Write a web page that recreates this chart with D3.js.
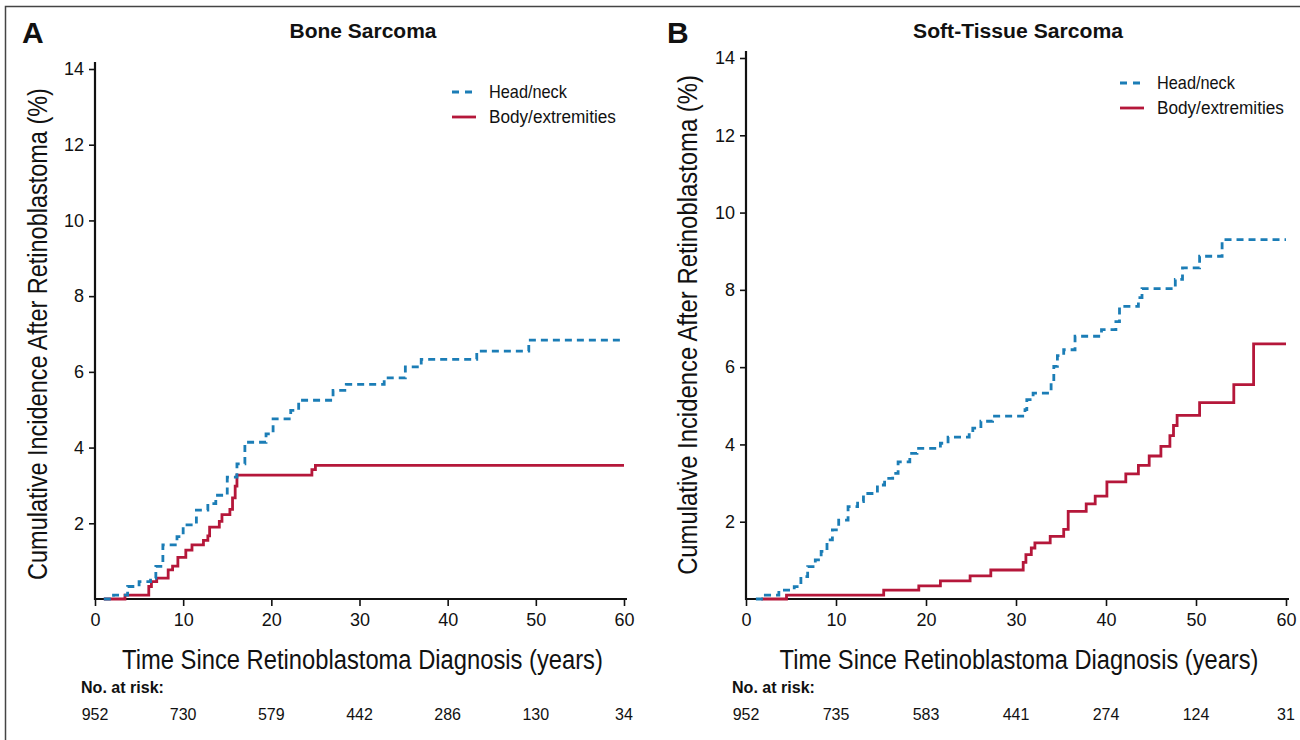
<!DOCTYPE html>
<html>
<head>
<meta charset="utf-8">
<script src="https://cdn.jsdelivr.net/npm/d3@7"></script>
<style>
  body { margin: 0; background: #fff; }
  svg text { fill: #111; font-family: "Liberation Sans", Arial, sans-serif; }
  .tick text { font-size: 18px; }
</style>
</head>
<body>
<svg id="chart" width="1300" height="740"></svg>
<script>
// ---- data ----
const xTicks = [0, 10, 20, 30, 40, 50, 60];
const yTicks = [2, 4, 6, 8, 10, 12, 14];
const seriesNames = ['Head/neck', 'Body/extremities'];

// Panel A: bone sarcoma (years, cumulative %)
const boneHeadT = [1, 2.1, 3.7, 5, 6.3, 6.9, 7.7, 9.3, 10, 11.5, 12.8, 13.7, 15, 16.1, 17, 19.4, 20.2, 22.2, 23.1, 27, 28.5, 32.8, 35.2, 37, 43.3, 49.2, 60];
const boneHeadV = [0, 0.1, 0.33, 0.46, 0.55, 0.86, 1.43, 1.65, 1.96, 2.35, 2.52, 2.74, 3.22, 3.57, 4.14, 4.36, 4.76, 4.98, 5.25, 5.51, 5.67, 5.84, 6.13, 6.33, 6.55, 6.84, 6.84];
const boneBodyT = [1, 3.4, 6.1, 6.4, 7, 8.3, 8.8, 9.4, 10.3, 11, 12.3, 12.8, 13, 14.1, 14.4, 15.3, 15.6, 15.9, 16.1, 24.6, 25, 60];
const boneBodyV = [0, 0.1, 0.33, 0.46, 0.55, 0.77, 0.87, 1.1, 1.29, 1.43, 1.55, 1.67, 1.9, 2.05, 2.23, 2.37, 2.67, 2.98, 3.27, 3.42, 3.53, 3.53];

// Panel B: soft-tissue sarcoma
const softHeadT = [1.1, 2.15, 3.65, 5.36, 6.1, 6.85, 7.7, 8.35, 9, 9.6, 10.3, 11.34, 12.4, 13.05, 14.6, 15.4, 16.3, 16.9, 18.2, 19, 21.6, 22.45, 24.8, 25.2, 26.1, 27.4, 31, 31.2, 31.9, 33.9, 34.2, 34.6, 35.3, 36.56, 39.5, 41.1, 41.5, 43.6, 44, 47.7, 48.5, 50.4, 52.9, 60];
const softHeadV = [0, 0.1, 0.23, 0.32, 0.58, 0.84, 1.01, 1.23, 1.53, 1.79, 2.04, 2.39, 2.52, 2.73, 2.95, 3.12, 3.25, 3.55, 3.77, 3.9, 4.03, 4.19, 4.29, 4.42, 4.6, 4.73, 4.9, 5.16, 5.33, 5.63, 6.02, 6.3, 6.45, 6.8, 6.97, 7.18, 7.57, 7.8, 8.03, 8.27, 8.57, 8.87, 9.3, 9.3];
const softBodyT = [1.7, 4.5, 15.3, 19.2, 21.6, 24.9, 27.2, 30.8, 31.1, 31.7, 32.1, 33.8, 35.3, 35.8, 37.8, 38.8, 40.1, 42.2, 43.6, 44.8, 46.1, 47.1, 47.5, 47.9, 50.4, 54.2, 56.4, 60];
const softBodyV = [0, 0.1, 0.23, 0.34, 0.47, 0.6, 0.75, 0.95, 1.15, 1.32, 1.45, 1.62, 1.8, 2.27, 2.46, 2.66, 3.03, 3.24, 3.46, 3.7, 3.95, 4.23, 4.49, 4.75, 5.08, 5.55, 6.6, 6.6];

const boneAtRisk = [952, 730, 579, 442, 286, 130, 34];
const softAtRisk = [952, 735, 583, 441, 274, 124, 31];

const colors = ['#1b7db6', '#b5173a'];

const svg = d3.select('#chart');

// outer frame of the figure
svg.append('rect')
  .attr('x', 5.5).attr('y', 6.5)
  .attr('width', 1310).attr('height', 750)
  .attr('fill', 'none').attr('stroke', '#444').attr('stroke-width', 1.5);

const zip = (t, v) => t.map((d, i) => ({ t: d, v: v[i] }));

// condensed look: squeeze real text horizontally to the width it has in the figure
function narrowText(sel, len, x, y, angle = 0) {
  const natural = sel.node().getComputedTextLength();
  sel.attr('x', 0).attr('y', 0)
    .attr('transform', `translate(${x},${y}) rotate(${angle}) scale(${len / natural},1)`);
}

function drawPanel(p) {
  const x = d3.scaleLinear().domain([0, 60]).range([p.x0, p.x1]);
  const y = d3.scaleLinear().domain([0, 14]).range([p.yBase, p.yTop]);
  const g = svg.append('g');

  // panel letter + title
  g.append('text')
    .attr('x', p.letterX).attr('y', 43)
    .attr('font-size', 30).attr('font-weight', 'bold')
    .text(p.letter);
  g.append('text')
    .attr('text-anchor', 'middle')
    .attr('font-size', 21).attr('font-weight', 'bold')
    .text(p.title)
    .call(narrowText, p.titleLen, p.titleX, 38);

  // axes
  const xAxis = g.append('g')
    .attr('transform', `translate(0,${p.yBase})`)
    .call(d3.axisBottom(x).tickValues(xTicks).tickSize(7).tickPadding(7));
  xAxis.select('.domain').attr('d', `M${p.x0 - 1},0H${p.x1 + 3}`);

  const yAxis = g.append('g')
    .attr('transform', `translate(${p.x0},0)`)
    .call(d3.axisLeft(y).tickValues(yTicks).tickSize(6).tickPadding(5));
  yAxis.select('.domain').attr('d', `M0,${p.yTop - 7}V${p.yBase + 1}`);

  svg.selectAll('.domain').attr('stroke', '#111').attr('stroke-width', 2.2);
  svg.selectAll('.tick line').attr('stroke', '#111').attr('stroke-width', 1.6);
  xAxis.selectAll('.tick text').attr('dy', '0.72em');

  // axis titles
  g.append('text')
    .attr('text-anchor', 'middle').attr('font-size', 28)
    .text('Time Since Retinoblastoma Diagnosis (years)')
    .call(narrowText, p.xTitleLen, (p.x0 + p.x1) / 2 + p.xTitleShift, 669);
  g.append('text')
    .attr('text-anchor', 'middle').attr('font-size', 28)
    .text('Cumulative Incidence After Retinoblastoma (%)')
    .call(narrowText, p.yTitleLen, p.yTitleX, p.yTitleY, -90);

  // curves
  const line = d3.line()
    .x(d => x(d.t))
    .y(d => y(d.v))
    .curve(d3.curveStepAfter);

  g.append('path')
    .attr('d', line(p.body))
    .attr('fill', 'none').attr('stroke', colors[1]).attr('stroke-width', 2.8);
  g.append('path')
    .attr('d', line(p.head))
    .attr('fill', 'none').attr('stroke', colors[0]).attr('stroke-width', 2.8)
    .attr('stroke-dasharray', '7,5');

  // legend
  const legLens = [78, 127];
  const lg = g.append('g').attr('transform', `translate(${p.legX},${p.legY})`);
  seriesNames.forEach((name, i) => {
    lg.append('line')
      .attr('x1', 0).attr('x2', i === 0 ? 20 : 24)
      .attr('y1', i * 25).attr('y2', i * 25)
      .attr('stroke', colors[i]).attr('stroke-width', 2.8)
      .attr('stroke-dasharray', i === 0 ? '7,6' : null);
    lg.append('text')
      .attr('font-size', 18)
      .text(name)
      .call(narrowText, legLens[i], 37, i * 25 + 6);
  });

  // number at risk
  g.append('text')
    .attr('font-size', 16).attr('font-weight', 'bold')
    .text('No. at risk:')
    .call(narrowText, 83, p.x0 - 14, 693);
  g.selectAll('.risk').data(p.risk).enter().append('text')
    .attr('class', 'risk')
    .attr('x', (d, i) => x(xTicks[i]))
    .attr('y', 720)
    .attr('text-anchor', 'middle').attr('font-size', 16)
    .text(d => d);
}

drawPanel({
  letter: 'A', letterX: 22, title: 'Bone Sarcoma', titleX: 363, titleLen: 147,
  x0: 95, x1: 624, yBase: 599, yTop: 69,
  xTitleShift: 3, xTitleLen: 481,
  yTitleX: 47, yTitleY: 334, yTitleLen: 492,
  legX: 452, legY: 92,
  head: zip(boneHeadT, boneHeadV), body: zip(boneBodyT, boneBodyV),
  risk: boneAtRisk
});

drawPanel({
  letter: 'B', letterX: 667, title: 'Soft-Tissue Sarcoma', titleX: 1018, titleLen: 210,
  x0: 746, x1: 1286, yBase: 599, yTop: 58,
  xTitleShift: 3, xTitleLen: 479,
  yTitleX: 697, yTitleY: 325, yTitleLen: 500,
  legX: 1120, legY: 83,
  head: zip(softHeadT, softHeadV), body: zip(softBodyT, softBodyV),
  risk: softAtRisk
});
</script>
</body>
</html>
